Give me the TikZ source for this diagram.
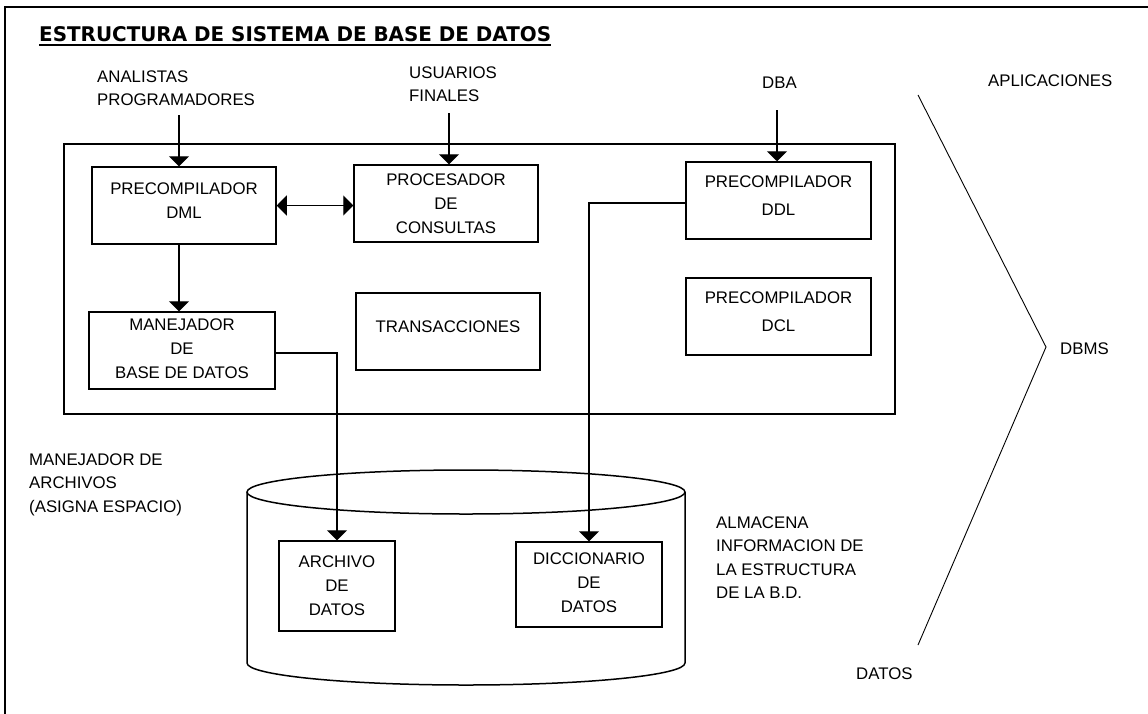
\documentclass[tikz,border=0pt]{standalone}
\usepackage{fontspec}
\setmainfont{Liberation Sans}
\newfontfamily\titlefont{DejaVu Sans}
\usetikzlibrary{arrows.meta}
\begin{document}
\begin{tikzpicture}[x=1pt,y=-1pt,
  box/.style={draw, line width=1.5pt, inner sep=0pt, rectangle},
  txt/.style={inner sep=0pt, align=center, font=\fontsize{16.8}{24}\selectfont},
  lbl/.style={inner sep=0pt, align=left, anchor=north west, font=\fontsize{16.8}{23.5}\selectfont},
  conn/.style={line width=1.4pt},
  arr/.style={conn, -{Triangle[width=20pt,length=10pt]}},
  darr/.style={conn, {Triangle[width=20pt,length=10pt]}-{Triangle[width=20pt,length=10pt]}},
  bracket/.style={line width=0.9pt}]
\useasboundingbox (0,0) rectangle (1148,713);
\fill[white] (0,0) rectangle (1148,713);
\begin{scope}
  \clip (0,0) rectangle (1148,713);
  \draw[line width=1.5pt] (5,7) rectangle (1170,730);
\end{scope}

% title
\node[inner sep=0pt, anchor=base west] (title) at (39,41)
  {\resizebox{512pt}{15pt}{\titlefont\bfseries ESTRUCTURA DE SISTEMA DE BASE DE DATOS}};
\draw[line width=1.6pt] ([yshift=-4pt]title.base west) -- ([yshift=-4pt]title.base east);

% outer labels
\node[lbl] (analistas) at (97,65.55) {\strut ANALISTAS\\\strut PROGRAMADORES};
\node[lbl] (usuarios) at (409,61.55) {\strut USUARIOS\\\strut FINALES};
\node[lbl] (dba) at (762,71.55) {\strut DBA};
\node[lbl] (aplic) at (988,69.55) {\strut APLICACIONES};
\node[lbl] (dbmst) at (1060,337.55) {\strut DBMS};
\node[lbl] (manarch) at (29,448.55) {\strut MANEJADOR DE\\\strut ARCHIVOS\\\strut (ASIGNA ESPACIO)};
\node[lbl] (almacena) at (716,511.55) {\strut ALMACENA\\\strut INFORMACION DE\\\strut LA ESTRUCTURA\\\strut DE LA B.D.};
\node[lbl] (datos) at (856,662.55) {\strut DATOS};

% DBMS container
\node[box, minimum width=831pt, minimum height=270pt] (dbms) at (479.5,279) {};

% boxes
\node[box, minimum width=184pt, minimum height=77pt] (dml) at (184,205.5) {};
\node[txt, yshift=5pt] (dmlt) at (dml) {PRECOMPILADOR\\DML};
\node[box, minimum width=184pt, minimum height=77pt] (proc) at (446,203.5) {};
\node[txt] (proct) at (proc) {PROCESADOR\\DE\\CONSULTAS};
\node[box, minimum width=185pt, minimum height=77pt] (ddl) at (778.5,200.5) {};
\node[txt, yshift=4.6pt, font=\fontsize{16.8}{28}\selectfont] (ddlt) at (ddl) {PRECOMPILADOR\\DDL};
\node[box, minimum width=185pt, minimum height=77pt] (dcl) at (778.5,316.5) {};
\node[txt, yshift=4.6pt, font=\fontsize{16.8}{28}\selectfont] (dclt) at (dcl) {PRECOMPILADOR\\DCL};
\node[box, minimum width=186pt, minimum height=77pt] (man) at (182,350.5) {};
\node[txt, yshift=1.6pt] (mant) at (man) {MANEJADOR\\DE\\BASE DE DATOS};
\node[box, minimum width=184pt, minimum height=77pt] (trans) at (448,331.5) {};
\node[txt, yshift=4.6pt] (transt) at (trans) {TRANSACCIONES};

% cylinder
\draw[line width=1.5pt] (466,492) ellipse [x radius=219, y radius=22];
\draw[line width=1.5pt] (247,492) -- (247,663)
  .. controls (247,675.15) and (345.05,685) .. (466,685)
  .. controls (586.95,685) and (685,675.15) .. (685,663) -- (685,492);

\node[box, minimum width=116pt, minimum height=90pt] (arch) at (337,586) {};
\node[txt] (archt) at (arch) {ARCHIVO\\DE\\DATOS};
\node[box, minimum width=146pt, minimum height=85pt] (dicc) at (589,584.5) {};
\node[txt, yshift=1.6pt] (dicct) at (dicc) {DICCIONARIO\\DE\\DATOS};

% connectors
\coordinate (src1) at (179,115);
\coordinate (src2) at (449,113);
\coordinate (src3) at (777,110);
\draw[arr] (src1) -- (src1 |- dml.north);
\draw[arr] (src2) -- (src2 |- proc.north);
\draw[arr] (src3) -- (src3 |- ddl.north);
\draw[arr] (src1 |- dml.south) -- (src1 |- man.north);
\draw[darr] (dml.east) -- (dml.east -| proc.west);
\draw[arr] ([yshift=-2.5pt]man.east) -| (arch.north);
\draw[arr] ([yshift=-2.5pt]ddl.west) -| (dicc.north);

% bracket
\coordinate (bt) at (918,95);
\coordinate (bm) at (1046,347);
\coordinate (bb) at (918,645);
\draw[bracket] (bt) -- (bm) -- (bb);
\end{tikzpicture}
\end{document}
